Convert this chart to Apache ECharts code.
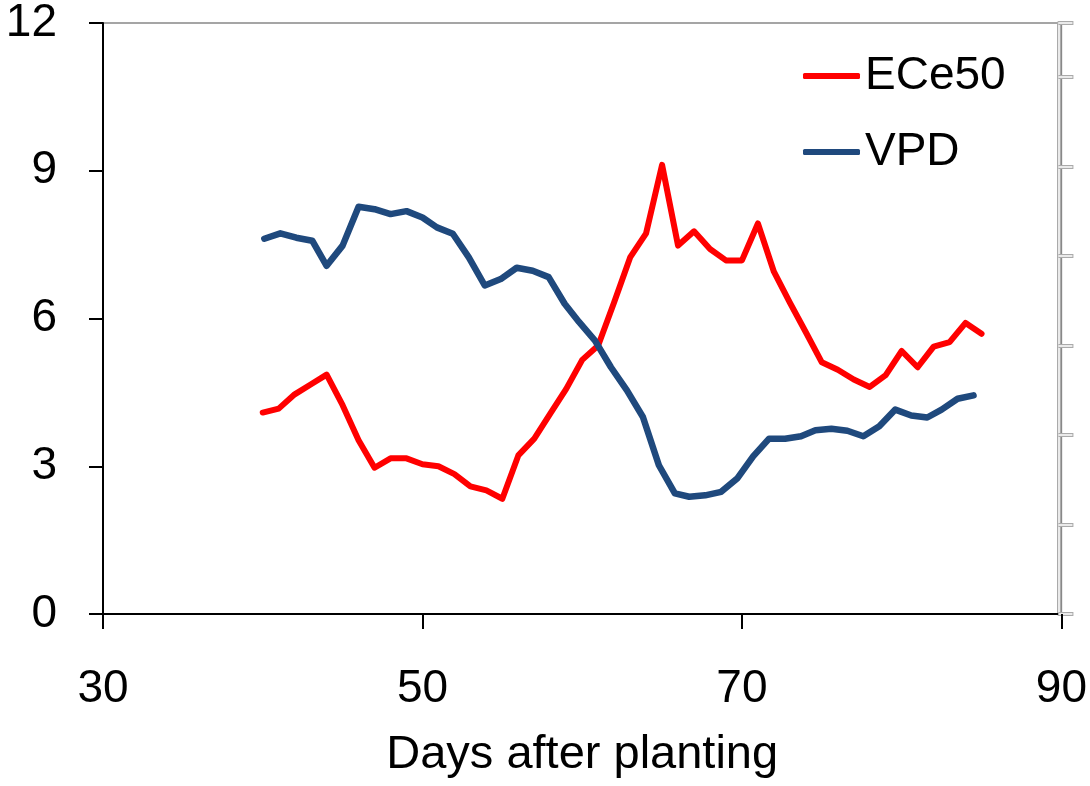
<!DOCTYPE html>
<html>
<head>
<meta charset="utf-8">
<script src="https://cdn.jsdelivr.net/npm/echarts@6/dist/echarts.min.js"></script>
<style>
html,body{margin:0;padding:0;background:#fff;}
#chart{width:1090px;height:786px;}
</style>
</head>
<body>
<div id="chart"></div>
<script>
// ---- data ----
const eceDays = [40,41,42,43,44,45,46,47,48,49,50,51,52,53,54,55,56,57,58,59,60,61,62,63,64,65,66,67,68,69,70,71,72,73,74,75,76,77,78,79,80,81,82,83,84,85];
const ece50 = [4.09,4.17,4.46,4.66,4.86,4.24,3.53,2.97,3.16,3.16,3.04,3.00,2.84,2.59,2.51,2.34,3.22,3.56,4.07,4.57,5.16,5.45,6.33,7.24,7.73,9.12,7.48,7.77,7.41,7.18,7.18,7.93,6.95,6.32,5.72,5.11,4.96,4.76,4.61,4.85,5.34,5.01,5.43,5.52,5.91,5.69];
const vpdDays = [40.1,41.1,42.1,43.1,44.0,45.0,46.0,47.0,48.0,49.0,50.0,50.9,51.9,52.9,53.9,54.9,55.9,56.9,57.9,58.9,59.8,60.8,61.8,62.8,63.8,64.8,65.8,66.7,67.7,68.7,69.7,70.7,71.7,72.7,73.7,74.6,75.6,76.6,77.6,78.6,79.6,80.6,81.6,82.5,83.5,84.5];
const vpd = [7.62,7.73,7.64,7.58,7.07,7.48,8.27,8.22,8.12,8.18,8.05,7.85,7.72,7.24,6.67,6.80,7.03,6.97,6.84,6.30,5.93,5.55,5.01,4.54,4.00,3.02,2.45,2.38,2.41,2.48,2.75,3.20,3.56,3.56,3.61,3.73,3.76,3.72,3.61,3.81,4.15,4.03,3.99,4.15,4.37,4.44];
const xTicks = {min:30, max:90, interval:20};
const yTicks = {min:0, max:12, interval:3};
const seriesNames = ['ECe50','VPD'];
const xTitle = 'Days after planting';

const FONT = '"Liberation Sans", Arial, sans-serif';
const chart = echarts.init(document.getElementById('chart'), null, {renderer:'canvas'});

const rightAxisBase = {
  type:'value', position:'right', min:0, max:6.6, interval:1,
  axisLabel:{show:false}, splitLine:{show:false}
};

chart.setOption({
  animation:false,
  backgroundColor:'#fff',
  grid:{left:103, right:25, top:22, bottom:172, show:true, borderColor:'#888', borderWidth:1.5, backgroundColor:'transparent'},
  legend:{
    orient:'vertical', left:798, top:48, itemGap:30,
    itemWidth:57, itemHeight:6, icon:'roundRect',
    textStyle:{fontFamily:FONT, fontSize:46, color:'#000'},
    data:seriesNames
  },
  xAxis:{
    type:'value', min:xTicks.min, max:xTicks.max, interval:xTicks.interval,
    name:xTitle, nameLocation:'middle', nameGap:118,
    nameTextStyle:{fontFamily:FONT, fontSize:47, color:'#000'},
    axisLine:{show:true, onZero:false, lineStyle:{color:'#000', width:2}},
    axisTick:{show:true, length:15, lineStyle:{color:'#000', width:2}},
    axisLabel:{fontFamily:FONT, fontSize:46, color:'#000', margin:52},
    splitLine:{show:false}
  },
  yAxis:[
    {
      type:'value', min:yTicks.min, max:yTicks.max, interval:yTicks.interval, position:'left',
      axisLine:{show:true, onZero:false, lineStyle:{color:'#000', width:2}},
      axisTick:{show:true, length:14, lineStyle:{color:'#000', width:2}},
      axisLabel:{fontFamily:FONT, fontSize:46, color:'#000', margin:46},
      splitLine:{show:false}
    },
    Object.assign({}, rightAxisBase, {offset:-3,
      axisLine:{show:true, lineStyle:{color:'#aaa', width:4}},
      axisTick:{show:true, inside:false, length:15, lineStyle:{color:'#aaa', width:4}}}),
    Object.assign({}, rightAxisBase, {offset:-3,
      axisLine:{show:true, lineStyle:{color:'#fff', width:1.5}},
      axisTick:{show:true, inside:false, length:14, lineStyle:{color:'#fff', width:1.5}}})
  ],
  series:[
    {
      name:seriesNames[0], type:'line', yAxisIndex:0,
      data:eceDays.map((d,i)=>[d, ece50[i]]),
      showSymbol:false, symbol:'none',
      lineStyle:{color:'#ff0000', width:6, join:'round', cap:'round'},
      itemStyle:{color:'#ff0000'}
    },
    {
      name:seriesNames[1], type:'line', yAxisIndex:0,
      data:vpdDays.map((d,i)=>[d, vpd[i]]),
      showSymbol:false, symbol:'none',
      lineStyle:{color:'#1F497D', width:6.5, join:'round', cap:'round'},
      itemStyle:{color:'#1F497D'}
    }
  ]
});
</script>
</body>
</html>
